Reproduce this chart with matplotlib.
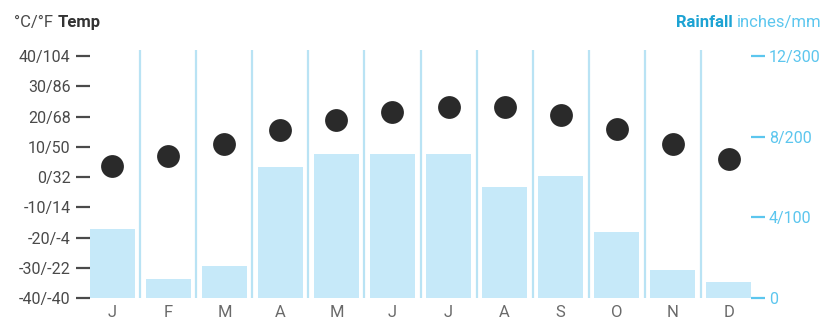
import matplotlib
matplotlib.use("Agg")
import matplotlib.pyplot as plt
import numpy as np

# Monthly climate data
months = ["J", "F", "M", "A", "M", "J", "J", "A", "S", "O", "N", "D"]
temp_c = [3.6, 7.0, 11.0, 15.5, 19.0, 21.5, 23.0, 23.0, 20.5, 16.0, 11.0, 6.0]
rain_mm = [86, 24, 40, 163, 178, 178, 178, 138, 151, 82, 35, 20]

temp_ticks = [40, 30, 20, 10, 0, -10, -20, -30, -40]
temp_labels = ["40/104", "30/86", "20/68", "10/50", "0/32", "-10/14", "-20/-4", "-30/-22", "-40/-40"]
rain_ticks = [0, 100, 200, 300]
rain_labels = ["0", "4/100", "8/200", "12/300"]

plt.rcParams["font.family"] = ["Roboto", "DejaVu Sans"]

BAR = "#c6e9f9"
SEP = "#b9e3f4"
DOT = "#2a2a2a"
GRAY = "#4a4a4a"
BLUE_LIGHT = "#5cc6ee"
BLUE_BOLD = "#1da3d3"

W, H = 825, 329
fig = plt.figure(figsize=(W / 100, H / 100), dpi=100)

left_px, right_px = 90, 751
bottom_px, top_px = 298, 50
ax = fig.add_axes([left_px / W, (H - bottom_px) / H,
                   (right_px - left_px) / W, (bottom_px - top_px) / H])
ax2 = ax.twinx()

x = np.arange(len(months))
tmin, tmax = -40, 42
# rainfall scale: 0 mm at -40 C, 300 mm at 40 C
mm_per_deg = 300 / 80.0

# rainfall bars and month separators (right axis)
ax.set_xlim(-0.4, len(months) - 0.6)
ax.set_ylim(0, (tmax - tmin) * mm_per_deg)
ax.bar(x, rain_mm, width=0.8, color=BAR, zorder=1)
for k in range(len(months) - 1):
    ax.axvline(k + 0.5, color=SEP, lw=1.6, zorder=1)

ax.yaxis.tick_right()
ax.set_yticks(rain_ticks)
ax.set_yticklabels(rain_labels)
ax.tick_params(axis="y", colors=BLUE_LIGHT, length=10, width=1.6, pad=3, labelsize=11.5)
ax.set_xticks(x)
ax.set_xticklabels(months)
ax.tick_params(axis="x", length=0, pad=5, labelcolor="#6a6a6a", labelsize=12)
for s in ax.spines.values():
    s.set_visible(False)

# temperature dots (left axis)
ax2.set_ylim(tmin, tmax)
ax2.yaxis.tick_left()
ax2.set_yticks(temp_ticks)
ax2.set_yticklabels(temp_labels)
ax2.tick_params(axis="y", colors=GRAY, length=10, width=1.6, pad=4, labelsize=11.5)
for s in ax2.spines.values():
    s.set_visible(False)
ax2.scatter(x, temp_c, s=270, color=DOT, zorder=3, linewidths=0)

# axis titles
t1 = fig.text(14 / W, 1 - 27 / H, "°C/°F", color=GRAY, fontsize=12, va="baseline")
ax2.annotate("Temp", xy=(1, 0), xycoords=t1, xytext=(3, 0), textcoords="offset points",
             color="#333333", fontsize=12, fontweight="bold", va="bottom", annotation_clip=False)
t2 = fig.text(822 / W, 1 - 27 / H, "inches/mm", color=BLUE_LIGHT, fontsize=12,
              ha="right", va="baseline")
ax2.annotate("Rainfall", xy=(0, 0), xycoords=t2, xytext=(-3, 0), textcoords="offset points",
             color=BLUE_BOLD, fontsize=12, fontweight="bold", ha="right", va="bottom",
             annotation_clip=False)

fig.savefig("out.png", dpi=100)
